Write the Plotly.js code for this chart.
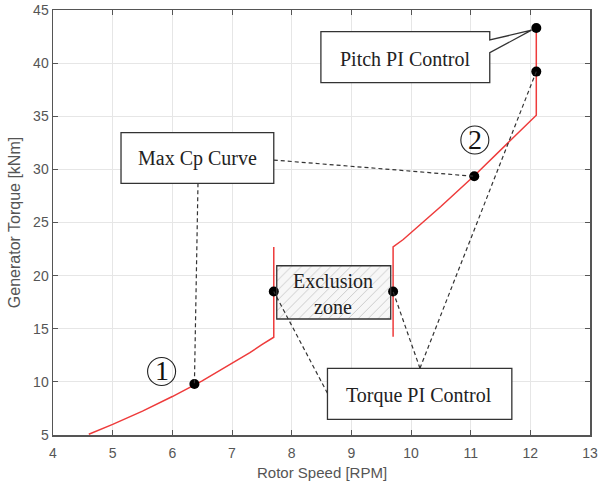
<!DOCTYPE html>
<html>
<head>
<meta charset="utf-8">
<script src="https://cdn.plot.ly/plotly-3.0.1.min.js"></script>
<style>
  html, body { margin: 0; padding: 0; background: #fff; }
  #chart { width: 600px; height: 482px; }
</style>
</head>
<body>
<div id="chart"></div>
<script>
// Region 1: max-Cp torque curve, then the vertical torque-control branch at 7.7 RPM
const region1Speed  = [4.6, 5.0, 5.5, 6.0, 6.5, 7.0, 7.3, 7.5, 7.7, 7.7];
const region1Torque = [5.07, 6.0, 7.25, 8.62, 10.1, 11.75, 12.75, 13.5, 14.2, 22.7];

// Region 2: vertical branch at 9.7 RPM, the rising segment, and pitch control at rated speed
const region2Speed  = [9.7, 9.7, 9.87, 10.5, 11.06, 11.6, 12.1, 12.1, 12.1];
const region2Torque = [14.25, 22.7, 23.4, 26.5, 29.4, 32.4, 35.1, 39.2, 43.3];

// Operating points marked on the curves
const pointSpeed  = [6.37, 7.7, 9.7, 11.06, 12.1, 12.1];
const pointTorque = [9.8, 18.5, 18.5, 29.35, 39.2, 43.3];

// Exclusion-zone box (speed range, torque range)
const exclusionSpeed  = [7.75, 9.66];
const exclusionTorque = [15.92, 20.93];

// Region markers: label, speed, torque
const regionLabels = ['1', '2'];
const regionLabelSpeed  = [5.82, 11.07];
const regionLabelTorque = [10.97, 32.76];

// Axis ticks
const xTicks = [4, 5, 6, 7, 8, 9, 10, 11, 12, 13];
const yTicks = [5, 10, 15, 20, 25, 30, 35, 40, 45];

const serif = '"Liberation Serif", "Times New Roman", serif';
const sans = '"Liberation Sans", Arial, sans-serif';
const red = '#ee3b3b';
const ink = '#333333';
const leaderDash = '4px,3px';

const traces = [
  {
    x: [exclusionSpeed[0], exclusionSpeed[1], exclusionSpeed[1], exclusionSpeed[0], exclusionSpeed[0]],
    y: [exclusionTorque[0], exclusionTorque[0], exclusionTorque[1], exclusionTorque[1], exclusionTorque[0]],
    mode: 'lines', fill: 'toself', line: {width: 0, color: 'rgba(0,0,0,0)'},
    fillcolor: '#f6f6f6',
    fillpattern: {shape: '/', fgcolor: '#c4c4c4', bgcolor: '#f7f7f7', size: 7, solidity: 0.12},
    showlegend: false, hoverinfo: 'skip'
  },
  {
    x: region1Speed, y: region1Torque, mode: 'lines',
    line: {color: red, width: 1.5},
    showlegend: false
  },
  {
    x: region2Speed, y: region2Torque, mode: 'lines',
    line: {color: red, width: 1.5},
    showlegend: false
  }
];

const P = (i) => [pointSpeed[i], pointTorque[i]];

function leader(x0, y0, x1, y1) {
  return {type: 'line', xref: 'x', yref: 'y', x0: x0, y0: y0, x1: x1, y1: y1,
          line: {color: ink, width: 1.2, dash: leaderDash}, layer: 'above'};
}

const shapes = [
  // leader lines
  leader(7.70, 30.88, P(3)[0], P(3)[1]),
  leader(6.43, 28.69, P(0)[0], P(0)[1]),
  leader(10.15, 11.28, P(2)[0], P(2)[1]),
  leader(10.15, 11.28, P(4)[0], P(4)[1]),
  leader(8.60, 8.93, P(1)[0], P(1)[1]),
  // Max Cp Curve box
  {type: 'rect', xref: 'x', yref: 'y', x0: 5.14, x1: 7.70, y0: 28.69, y1: 33.45,
   fillcolor: '#ffffff', line: {color: ink, width: 1.3}, layer: 'above'},
  // Torque PI Control box
  {type: 'rect', xref: 'x', yref: 'y', x0: 8.60, x1: 11.69, y0: 6.48, y1: 11.28,
   fillcolor: '#ffffff', line: {color: ink, width: 1.3}, layer: 'above'},
  // Exclusion zone outline
  {type: 'rect', xref: 'x', yref: 'y', x0: exclusionSpeed[0], x1: exclusionSpeed[1],
   y0: exclusionTorque[0], y1: exclusionTorque[1],
   fillcolor: 'rgba(0,0,0,0)', line: {color: ink, width: 1.3}, layer: 'above'},
  // Pitch PI Control callout with pointer
  {type: 'path', xref: 'x', yref: 'y',
   path: 'M 8.49 42.96 L 11.32 42.96 L 11.32 42.18 L ' + (P(5)[0] - 0.08) + ' ' + (P(5)[1] - 0.2) +
         ' L 11.32 40.98 L 11.32 38.16 L 8.49 38.16 Z',
   fillcolor: '#ffffff', line: {color: ink, width: 1.3}, layer: 'above'}
];

// circled region numbers
regionLabels.forEach((_, i) => {
  shapes.push({type: 'circle', xref: 'x', yref: 'y', xsizemode: 'pixel', ysizemode: 'pixel',
    xanchor: regionLabelSpeed[i], yanchor: regionLabelTorque[i],
    x0: -14, x1: 14, y0: -14, y1: 14,
    fillcolor: 'rgba(255,255,255,0)', line: {color: '#222', width: 1.1}, layer: 'above'});
});

const annotations = [
  {x: 6.42, y: 31.0, xref: 'x', yref: 'y', text: 'Max Cp Curve', showarrow: false,
   font: {family: serif, size: 20, color: '#222'}},
  {x: 10.14, y: 8.75, xref: 'x', yref: 'y', text: 'Torque PI Control', showarrow: false,
   font: {family: serif, size: 20, color: '#222'}},
  {x: 9.9, y: 40.4, xref: 'x', yref: 'y', text: 'Pitch PI Control', showarrow: false,
   font: {family: serif, size: 20, color: '#222'}},
  {x: 8.70, y: 18.3, xref: 'x', yref: 'y', text: 'Exclusion<br>zone', showarrow: false,
   font: {family: serif, size: 20, color: '#222'}},
  // x-axis title, set low under the tick labels
  {x: 0.5, y: 0, xref: 'paper', yref: 'paper', xanchor: 'center', yanchor: 'top',
   yshift: -27, text: 'Rotor Speed [RPM]', showarrow: false,
   font: {family: sans, size: 15, color: '#555'}}
];

regionLabels.forEach((t, i) => {
  annotations.push({x: regionLabelSpeed[i], y: regionLabelTorque[i], xref: 'x', yref: 'y',
    text: t, showarrow: false, yshift: 1,
    font: {family: serif, size: 28, color: '#111'}});
});

traces.push({
  x: pointSpeed, y: pointTorque, mode: 'markers',
  marker: {color: '#000', size: 10},
  showlegend: false
});

const axisCommon = {
  showline: true, mirror: 'ticks', linecolor: '#555', linewidth: 1.5,
  ticks: 'inside', ticklen: 5, tickcolor: '#555', tickwidth: 1,
  showgrid: true, gridcolor: '#e6e6e6', gridwidth: 1, zeroline: false,
  tickfont: {family: sans, size: 14, color: '#555'}, fixedrange: true
};

const layout = {
  width: 600, height: 482,
  margin: {l: 53, r: 10, t: 10, b: 47},
  paper_bgcolor: '#fff', plot_bgcolor: '#fff',
  hovermode: false,
  xaxis: Object.assign({}, axisCommon, {
    range: [4, 13], tickvals: xTicks, ticktext: xTicks.map(String),
    ticklabelstandoff: 5
  }),
  yaxis: Object.assign({}, axisCommon, {
    range: [5, 45], tickvals: yTicks, ticktext: yTicks.map(String),
    title: {text: 'Generator Torque [kNm]', font: {family: sans, size: 16, color: '#555'}, standoff: 8}
  }),
  shapes: shapes,
  annotations: annotations,
  showlegend: false
};

Plotly.newPlot('chart', traces, layout, {displayModeBar: false, staticPlot: true});
</script>
</body>
</html>
